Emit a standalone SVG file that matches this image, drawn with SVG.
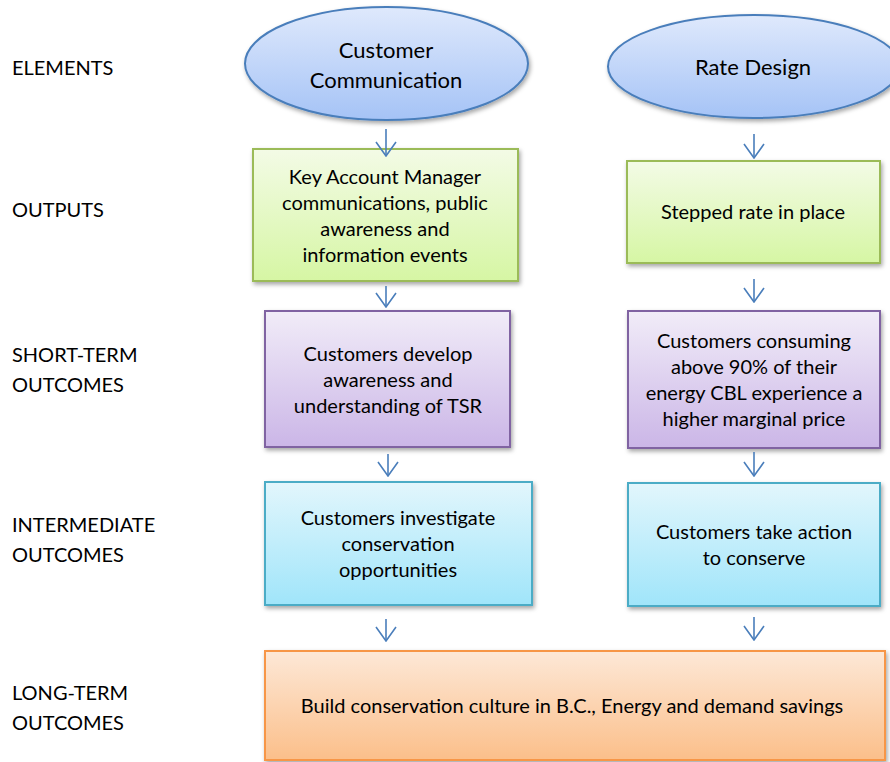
<svg xmlns="http://www.w3.org/2000/svg" width="890" height="762" viewBox="0 0 890 762">
  <defs>
    <linearGradient id="gBlue" x1="0" y1="0" x2="0" y2="1">
      <stop offset="0" stop-color="#dfe9fc"/>
      <stop offset="1" stop-color="#a5c3f6"/>
    </linearGradient>
    <linearGradient id="gGreen" x1="0" y1="0" x2="0" y2="1">
      <stop offset="0" stop-color="#f3fbe6"/>
      <stop offset="1" stop-color="#d6f6a4"/>
    </linearGradient>
    <linearGradient id="gPurple" x1="0" y1="0" x2="0" y2="1">
      <stop offset="0" stop-color="#f1ecf8"/>
      <stop offset="1" stop-color="#cbb6e7"/>
    </linearGradient>
    <linearGradient id="gCyan" x1="0" y1="0" x2="0" y2="1">
      <stop offset="0" stop-color="#e2f6fc"/>
      <stop offset="1" stop-color="#a0e5fa"/>
    </linearGradient>
    <linearGradient id="gOrange" x1="0" y1="0" x2="0" y2="1">
      <stop offset="0" stop-color="#fde8d7"/>
      <stop offset="1" stop-color="#fbbf8a"/>
    </linearGradient>
    <filter id="shadow" x="-10%" y="-10%" width="125%" height="130%">
      <feDropShadow dx="1.5" dy="2.5" stdDeviation="2" flood-color="#000" flood-opacity="0.35"/>
    </filter>
    <!-- open V arrowhead, drawn along +x so orient="auto" follows the line -->
    <marker id="vhead" viewBox="0 0 16 22" refX="15" refY="11" markerWidth="16" markerHeight="22" markerUnits="userSpaceOnUse" orient="auto">
      <path d="M1,1 L15,11 L1,21" fill="none" stroke="#4a7ebb" stroke-width="1.6"/>
    </marker>
  </defs>
  <style>
    text { font-family: "Lato", "Liberation Sans", sans-serif; font-size: 20px; fill: #000; }
    .lbl { text-anchor: start; }
    .c { text-anchor: middle; }
    .big { font-size: 22px; }
    .ell { fill: url(#gBlue); stroke: #4a7ebb; stroke-width: 2; filter: url(#shadow); }
    .green { fill: url(#gGreen); stroke: #9bbb59; stroke-width: 2; filter: url(#shadow); }
    .purple { fill: url(#gPurple); stroke: #8064a2; stroke-width: 2; filter: url(#shadow); }
    .cyan { fill: url(#gCyan); stroke: #4bacc6; stroke-width: 2; filter: url(#shadow); }
    .orange { fill: url(#gOrange); stroke: #f79646; stroke-width: 2; filter: url(#shadow); }
    .conn { stroke: #4a7ebb; stroke-width: 1.6; fill: none; marker-end: url(#vhead); }
  </style>

  <!-- Row labels -->
  <g id="row-labels">
    <text class="lbl" x="12" y="75">ELEMENTS</text>
    <text class="lbl" x="12" y="217">OUTPUTS</text>
    <text class="lbl" x="12" y="362">SHORT-TERM</text>
    <text class="lbl" x="12" y="392">OUTCOMES</text>
    <text class="lbl" x="12" y="532">INTERMEDIATE</text>
    <text class="lbl" x="12" y="562">OUTCOMES</text>
    <text class="lbl" x="12" y="700">LONG-TERM</text>
    <text class="lbl" x="12" y="730">OUTCOMES</text>
  </g>

  <!-- Elements -->
  <g id="customer-communication">
    <ellipse class="ell" cx="386.5" cy="63.5" rx="141.5" ry="56.5"/>
    <text class="c big" x="386" y="58">Customer</text>
    <text class="c big" x="386" y="88">Communication</text>
  </g>
  <g id="rate-design">
    <ellipse class="ell" cx="754" cy="66.5" rx="146" ry="51.5"/>
    <text class="c big" x="753" y="75">Rate Design</text>
  </g>

  <!-- Outputs -->
  <g id="kam-communications">
    <rect class="green" x="253" y="149" width="265" height="132"/>
    <text class="c" x="385" y="184">Key Account Manager</text>
    <text class="c" x="385" y="210">communications, public</text>
    <text class="c" x="385" y="236">awareness and</text>
    <text class="c" x="385" y="262">information events</text>
  </g>
  <g id="stepped-rate">
    <rect class="green" x="627" y="161" width="253" height="102"/>
    <text class="c" x="753" y="219">Stepped rate in place</text>
  </g>

  <!-- Short-term outcomes -->
  <g id="awareness">
    <rect class="purple" x="265" y="311" width="245" height="136"/>
    <text class="c" x="388" y="361">Customers develop</text>
    <text class="c" x="388" y="387">awareness and</text>
    <text class="c" x="388" y="413">understanding of TSR</text>
  </g>
  <g id="marginal-price">
    <rect class="purple" x="628" y="311" width="252" height="137"/>
    <text class="c" x="754" y="348">Customers consuming</text>
    <text class="c" x="754" y="374">above 90% of their</text>
    <text class="c" x="754" y="400">energy CBL experience a</text>
    <text class="c" x="754" y="426">higher marginal price</text>
  </g>

  <!-- Intermediate outcomes -->
  <g id="investigate">
    <rect class="cyan" x="265" y="482" width="267" height="123"/>
    <text class="c" x="398" y="525">Customers investigate</text>
    <text class="c" x="398" y="551">conservation</text>
    <text class="c" x="398" y="577">opportunities</text>
  </g>
  <g id="take-action">
    <rect class="cyan" x="628" y="483" width="252" height="123"/>
    <text class="c" x="754" y="539">Customers take action</text>
    <text class="c" x="754" y="565">to conserve</text>
  </g>

  <!-- Long-term outcome -->
  <g id="conservation-culture">
    <rect class="orange" x="265" y="651" width="620" height="109"/>
    <text class="c" x="572" y="713">Build conservation culture in B.C., Energy and demand savings</text>
  </g>

  <!-- Connectors -->
  <g id="connectors">
    <line class="conn" x1="386" y1="129" x2="386" y2="156"/>
    <line class="conn" x1="386" y1="286" x2="386" y2="307"/>
    <line class="conn" x1="388" y1="454" x2="388" y2="476"/>
    <line class="conn" x1="386" y1="619" x2="386" y2="641"/>
    <line class="conn" x1="754" y1="134" x2="754" y2="158"/>
    <line class="conn" x1="754" y1="279" x2="754" y2="302"/>
    <line class="conn" x1="754" y1="452" x2="754" y2="476"/>
    <line class="conn" x1="754" y1="617" x2="754" y2="640"/>
  </g>
</svg>
